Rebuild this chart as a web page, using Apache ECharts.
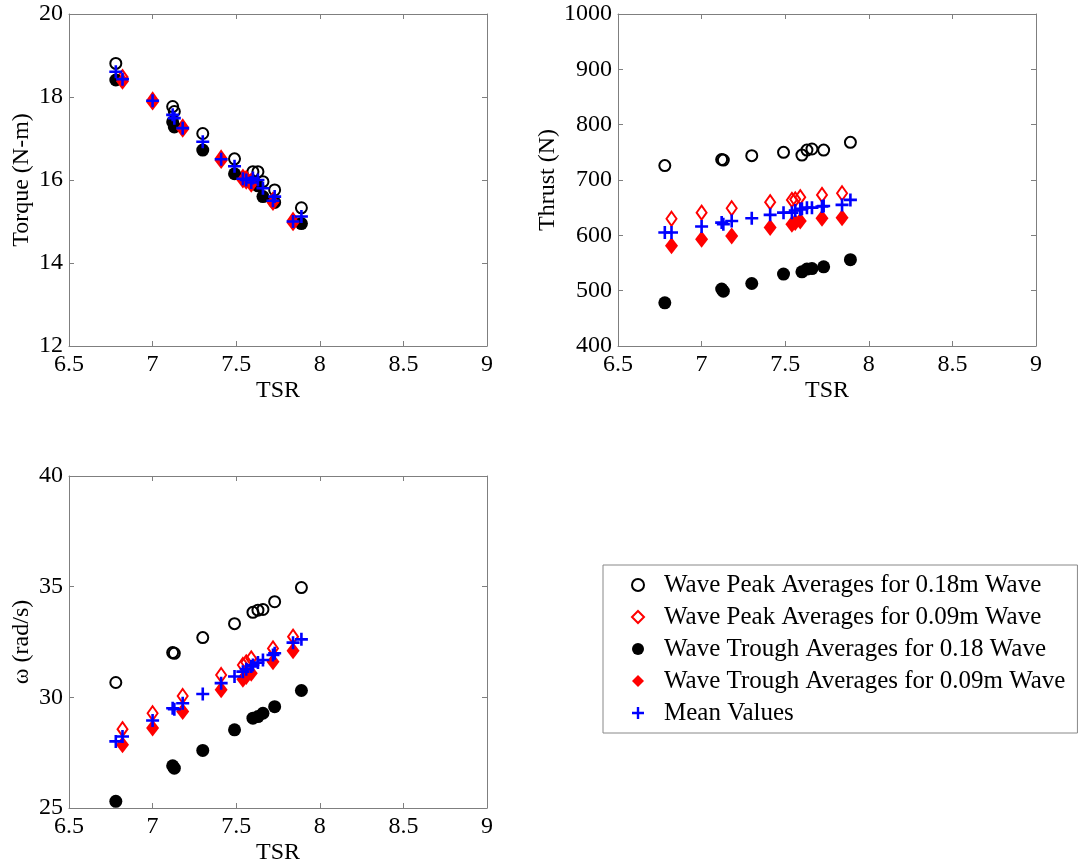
<!DOCTYPE html>
<html>
<head>
<meta charset="utf-8">
<script src="https://cdn.jsdelivr.net/npm/echarts@6/dist/echarts.min.js"></script>
<style>
  html, body { margin: 0; padding: 0; background: #fff; }
  #chart { width: 1082px; height: 867px; }
</style>
</head>
<body>
<div id="chart"></div>
<script>
// Tip speed ratios for the two wave heights
const tsr18 = [6.78, 7.12, 7.13, 7.30, 7.49, 7.60, 7.63, 7.66, 7.73, 7.89];
const tsr09 = [6.82, 7.00, 7.18, 7.41, 7.54, 7.56, 7.59, 7.72, 7.84];

// Torque (N-m)
const torquePeak18   = [18.81, 17.77, 17.65, 17.12, 16.51, 16.20, 16.20, 15.96, 15.76, 15.33];
const torqueTrough18 = [18.41, 17.40, 17.28, 16.72, 16.15, 15.95, 15.86, 15.60, 15.46, 14.95];
const torquePeak09   = [18.48, 17.93, 17.28, 16.53, 16.07, 16.04, 15.98, 15.52, 15.03];
const torqueTrough09 = [18.38, 17.88, 17.22, 16.47, 16.00, 15.97, 15.90, 15.46, 14.97];
const torqueMean18   = [18.61, 17.57, 17.49, 16.92, 16.33, 16.05, 16.00, 15.80, 15.60, 15.12];
const torqueMean09   = [18.43, 17.91, 17.25, 16.50, 16.03, 16.00, 15.94, 15.50, 15.00];

// Thrust (N)
const thrustPeak18   = [726, 737, 736, 744, 750, 745, 754, 756, 754, 768];
const thrustTrough18 = [478, 503, 499, 513, 530, 534, 539, 540, 543, 556];
const thrustPeak09   = [630, 641, 649, 660, 664, 665, 669, 673, 676];
const thrustTrough09 = [581, 593, 599, 614, 620, 623, 626, 631, 632];
const thrustMean18   = [605, 623, 620, 631, 641, 648, 650, 650, 653, 664];
const thrustMean09   = [605, 616, 626, 637, 641, 645, 647, 652, 655];

// Rotor speed omega (rad/s)
const omegaPeak18   = [30.67, 32.02, 31.99, 32.70, 33.33, 33.84, 33.94, 33.97, 34.32, 34.96];
const omegaTrough18 = [25.30, 26.91, 26.80, 27.60, 28.53, 29.06, 29.13, 29.28, 29.58, 30.31];
const omegaPeak09   = [28.56, 29.28, 30.06, 31.01, 31.46, 31.58, 31.76, 32.21, 32.74];
const omegaTrough09 = [27.86, 28.61, 29.36, 30.34, 30.82, 30.94, 31.09, 31.61, 32.11];
const omegaMean18   = [28.01, 29.51, 29.46, 30.15, 30.94, 31.46, 31.57, 31.69, 31.99, 32.62];
const omegaMean09   = [28.23, 28.95, 29.73, 30.64, 31.16, 31.27, 31.39, 31.91, 32.47];

const xTicks = { min: 6.5, max: 9, interval: 0.5 };
const seriesNames = [
  'Wave Peak Averages for 0.18m Wave',
  'Wave Peak Averages for 0.09m Wave',
  'Wave Trough Averages for 0.18 Wave',
  'Wave Trough Averages for 0.09m Wave',
  'Mean Values'
];

const FONT = "'Liberation Serif', 'Times New Roman', serif";
const TICK_SIZE = 24;
const AXIS_GREY = '#7f7f7f';
const PLUS = 'path://M0,4 H4 V0 H6 V4 H10 V6 H6 V10 H4 V6 H0 Z';

const zip = (xs, ys) => xs.map((x, i) => [x, ys[i]]);

const grids = [
  { left: 69, top: 14, width: 418, height: 332 },
  { left: 618, top: 14, width: 418, height: 332 },
  { left: 69, top: 476, width: 418, height: 332 }
];

const panels = [
  { name: 'Torque (N-m)', min: 12, max: 20, interval: 2, nameGap: 35,
    p18: torquePeak18, t18: torqueTrough18, p09: torquePeak09, t09: torqueTrough09, m18: torqueMean18, m09: torqueMean09 },
  { name: 'Thrust (N)', min: 400, max: 1000, interval: 100, nameGap: 58,
    p18: thrustPeak18, t18: thrustTrough18, p09: thrustPeak09, t09: thrustTrough09, m18: thrustMean18, m09: thrustMean09 },
  { name: 'ω (rad/s)', min: 25, max: 40, interval: 5, nameGap: 35,
    p18: omegaPeak18, t18: omegaTrough18, p09: omegaPeak09, t09: omegaTrough09, m18: omegaMean18, m09: omegaMean09 }
];

const xAxes = [], yAxes = [], series = [];

panels.forEach((p, g) => {
  const tick = { show: true, inside: true, length: 5, lineStyle: { color: AXIS_GREY } };
  const line = { show: true, onZero: false, lineStyle: { color: AXIS_GREY, width: 1 } };
  const label = { fontFamily: FONT, fontSize: TICK_SIZE, color: '#000', formatter: v => String(v) };
  xAxes.push({
    gridIndex: g, type: 'value', position: 'bottom', ...xTicks,
    name: 'TSR', nameLocation: 'middle', nameGap: 33,
    nameTextStyle: { fontFamily: FONT, fontSize: TICK_SIZE, color: '#000' },
    axisLine: line, axisTick: tick, splitLine: { show: false },
    axisLabel: { ...label, margin: 7 }
  });
  xAxes.push({
    gridIndex: g, type: 'value', position: 'top', ...xTicks,
    axisLine: line, axisTick: tick, splitLine: { show: false }, axisLabel: { show: false }
  });
  yAxes.push({
    gridIndex: g, type: 'value', position: 'left', min: p.min, max: p.max, interval: p.interval,
    name: p.name, nameLocation: 'middle', nameGap: p.nameGap, nameRotate: 90,
    nameTextStyle: { fontFamily: FONT, fontSize: TICK_SIZE, color: '#000' },
    axisLine: line, axisTick: tick, splitLine: { show: false },
    axisLabel: { ...label, margin: 6 }
  });
  yAxes.push({
    gridIndex: g, type: 'value', position: 'right', min: p.min, max: p.max, interval: p.interval,
    axisLine: line, axisTick: tick, splitLine: { show: false }, axisLabel: { show: false }
  });

  const xi = g * 2, yi = g * 2;
  const base = { type: 'scatter', xAxisIndex: xi, yAxisIndex: yi, silent: true };
  series.push({ ...base, name: seriesNames[0], symbol: 'circle', symbolSize: 11,
    itemStyle: { color: 'rgba(0,0,0,0)', borderColor: '#000', borderWidth: 2, opacity: 1 },
    data: zip(tsr18, p.p18) });
  series.push({ ...base, name: seriesNames[1], symbol: 'diamond', symbolSize: [10, 14],
    itemStyle: { color: 'rgba(0,0,0,0)', borderColor: '#ff0000', borderWidth: 2, opacity: 1 },
    data: zip(tsr09, p.p09) });
  series.push({ ...base, name: seriesNames[2], symbol: 'circle', symbolSize: 13,
    itemStyle: { color: '#000', opacity: 1 },
    data: zip(tsr18, p.t18) });
  series.push({ ...base, name: seriesNames[3], symbol: 'diamond', symbolSize: [13, 17],
    itemStyle: { color: '#ff0000', opacity: 1 },
    data: zip(tsr09, p.t09) });
  series.push({ ...base, name: seriesNames[4], symbol: PLUS, symbolSize: 13,
    itemStyle: { color: '#0000ff', opacity: 1 },
    data: zip(tsr18, p.m18).concat(zip(tsr09, p.m09)) });
});

const legendIcons = [
  { icon: 'circle', itemStyle: { color: 'rgba(0,0,0,0)', borderColor: '#000', borderWidth: 2, opacity: 1 } },
  { icon: 'diamond', itemStyle: { color: 'rgba(0,0,0,0)', borderColor: '#ff0000', borderWidth: 2, opacity: 1 } },
  { icon: 'circle', itemStyle: { color: '#000', opacity: 1 } },
  { icon: 'diamond', itemStyle: { color: '#ff0000', opacity: 1 } },
  { icon: PLUS, itemStyle: { color: '#0000ff', opacity: 1 } }
];

const option = {
  animation: false,
  backgroundColor: '#fff',
  grid: grids.map(g => ({ ...g, containLabel: false })),
  xAxis: xAxes,
  yAxis: yAxes,
  legend: {
    orient: 'vertical', left: 603, top: 565,
    padding: [4, 12, 4, 28],
    itemGap: 0, itemWidth: 12, itemHeight: 12,
    selectedMode: false,
    backgroundColor: '#fff', borderColor: '#888', borderWidth: 1,
    textStyle: { fontFamily: FONT, fontSize: 25, color: '#000', lineHeight: 32, padding: [0, 0, 0, 15] },
    data: seriesNames.map((n, i) => ({ name: n, ...legendIcons[i] }))
  },
  series: series
};

const chart = echarts.init(document.getElementById('chart'), null, { renderer: 'canvas' });
chart.setOption(option);
</script>
</body>
</html>
